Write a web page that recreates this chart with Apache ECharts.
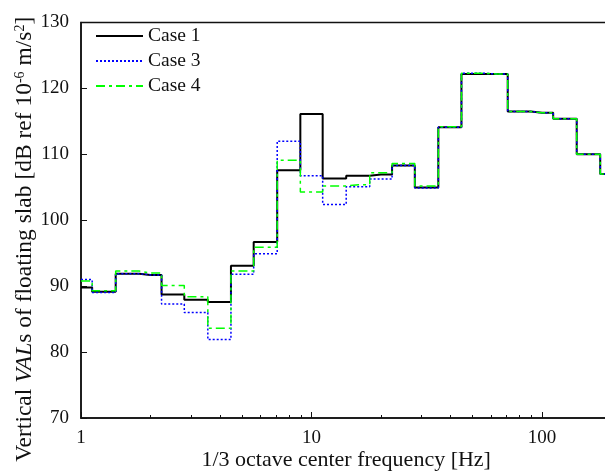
<!DOCTYPE html>
<html lang="en">
<head>
    <meta charset="UTF-8">
    <title>Vertical VALs of floating slab</title>
    <script src="https://cdn.jsdelivr.net/npm/echarts@6/dist/echarts.min.js"></script>
    <style>
        html, body { margin: 0; padding: 0; background: #fff; }
    </style>
</head>
<body>
<div id="main" style="width: 605px;height:471px;"></div>
<script>
    // 1/3 octave band centre frequencies [Hz]
    var freqs = [1, 1.25, 1.6, 2, 2.5, 3.15, 4, 5, 6.3, 8, 10, 12.5, 16, 20, 25, 31.5, 40, 50, 63, 80, 100, 125, 160, 200];
    // VAL levels [dB]
    var case1 = [89.8, 89.15, 91.9, 91.7, 88.75, 87.95, 87.6, 93.1, 96.7, 107.6, 116.1, 106.35, 106.75, 106.95, 108.3, 104.95, 114.1, 122.2, 122.2, 116.5, 116.3, 115.4, 110.0, 107.0];
    var case3 = [91.0, 89.05, 91.9, 91.7, 87.3, 86.0, 81.9, 91.8, 94.9, 112.0, 106.75, 102.4, 105.1, 106.25, 108.3, 104.9, 114.1, 122.3, 122.2, 116.5, 116.3, 115.4, 110.0, 107.0];
    var case4 = [90.8, 89.3, 92.3, 92.0, 90.1, 88.4, 83.6, 92.3, 95.9, 109.1, 104.3, 105.2, 105.4, 107.2, 108.6, 105.2, 114.2, 122.3, 122.2, 116.5, 116.3, 115.4, 110.0, 107.0];
    var majorTicks = [1, 10, 100];
    var minorTicks = [2, 3, 4, 5, 6, 7, 8, 9, 20, 30, 40, 50, 60, 70, 80, 90, 200];

    function pairs(ys) {
        return freqs.map(function (f, i) { return [f, ys[i]]; });
    }

    var font = 'Liberation Serif';
    var myChart = echarts.init(document.getElementById('main'));

    myChart.setOption({
        animation: false,
        textStyle: { fontFamily: font },
        grid: {
            left: 81,
            top: 22.5,
            bottom: 53,
            right: -6.4,
            outerBoundsMode: 'none',
            containLabel: false,
            show: true,
            borderColor: '#111',
            borderWidth: 1.5
        },
        legend: {
            orient: 'vertical',
            left: 95,
            top: 26,
            padding: 0,
            itemWidth: 47,
            itemHeight: 14,
            itemGap: 5,
            itemStyle: { opacity: 0 },
            textStyle: { fontFamily: font, fontSize: 19.5, color: '#111', lineHeight: 20 },
            data: ['Case 1', 'Case 3', 'Case 4']
        },
        xAxis: [{
            type: 'log',
            logBase: 10,
            min: 1,
            max: 200,
            name: '1/3 octave center frequency [Hz]',
            nameLocation: 'middle',
            nameMoveOverlap: false,
            nameGap: 31,
            nameTextStyle: { fontFamily: font, fontSize: 22, color: '#111' },
            axisLine: { lineStyle: { color: '#111', width: 1.5 } },
            axisTick: { inside: true, length: 6, customValues: majorTicks, lineStyle: { color: '#111' } },
            axisLabel: { customValues: majorTicks, margin: 11, fontFamily: font, fontSize: 19, color: '#111' },
            splitLine: { show: false },
            minorSplitLine: { show: false }
        }, {
            type: 'log',
            logBase: 10,
            min: 1,
            max: 200,
            position: 'bottom',
            axisLine: { show: false },
            axisTick: { inside: true, length: 3, customValues: minorTicks, lineStyle: { color: '#111' } },
            axisLabel: { show: false },
            splitLine: { show: false }
        }],
        yAxis: {
            type: 'value',
            min: 70,
            max: 130,
            interval: 10,
            name: '{a|Vertical }{i|VAL}{a|s of floating slab [dB ref 10}{s|-6}{a| m/s}{s|2}{a|]}',
            nameLocation: 'middle',
            nameMoveOverlap: false,
            nameRotate: 90,
            nameGap: 44,
            nameTextStyle: {
                fontFamily: font,
                fontSize: 23.5,
                color: '#111',
                padding: [0, 38, 0, 0],
                rich: {
                    a: { fontFamily: font, fontSize: 23.5, color: '#111' },
                    i: { fontFamily: font, fontSize: 23.5, color: '#111', fontStyle: 'italic' },
                    s: { fontFamily: font, fontSize: 14, color: '#111', verticalAlign: 'top', padding: [0, 0, 10, 0] }
                }
            },
            axisLine: { show: true, lineStyle: { color: '#111', width: 1.5 } },
            axisTick: { inside: true, length: 6, lineStyle: { color: '#111' } },
            axisLabel: { margin: 12, fontFamily: font, fontSize: 19, color: '#111' },
            splitLine: { show: false }
        },
        series: [{
            name: 'Case 1',
            type: 'line',
            step: 'middle',
            symbol: 'none',
            data: pairs(case1),
            lineStyle: { color: '#000', width: 2 },
            itemStyle: { color: '#000' },
            z: 2
        }, {
            name: 'Case 3',
            type: 'line',
            step: 'middle',
            symbol: 'none',
            data: pairs(case3),
            lineStyle: { color: '#0000ff', width: 1.5, type: [2, 2] },
            itemStyle: { color: '#0000ff' },
            z: 3
        }, {
            name: 'Case 4',
            type: 'line',
            step: 'middle',
            symbol: 'none',
            data: pairs(case4),
            lineStyle: { color: '#00ff00', width: 1.5, type: [9, 4, 3, 4] },
            itemStyle: { color: '#00ff00' },
            z: 4
        }]
    });
</script>
</body>
</html>
